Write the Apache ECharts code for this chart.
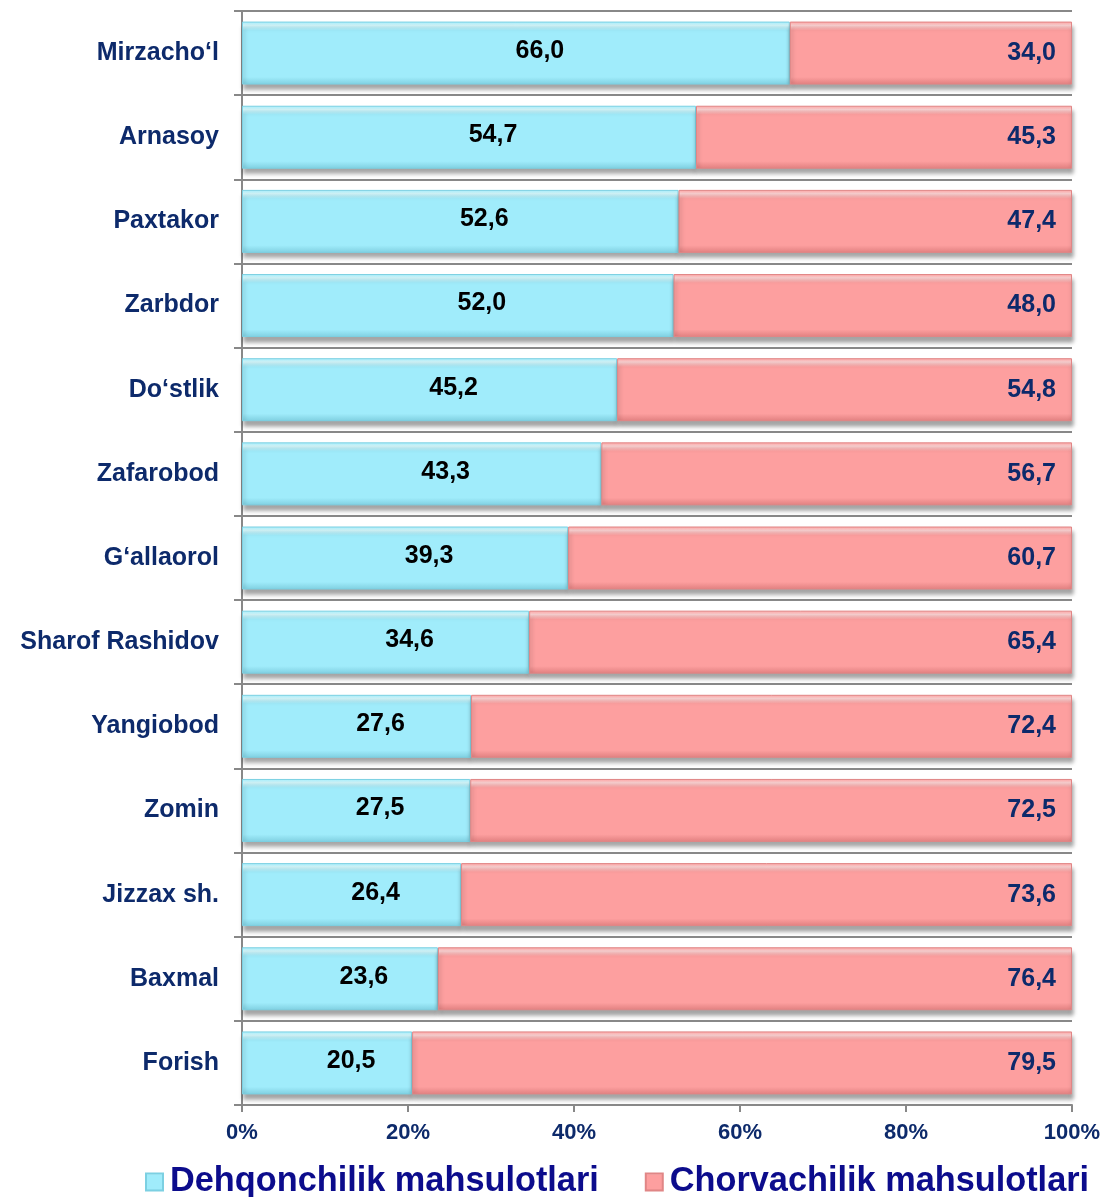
<!DOCTYPE html>
<html>
<head>
<meta charset="utf-8">
<script src="https://cdn.jsdelivr.net/npm/echarts@6/dist/echarts.min.js"></script>
<style>
html,body{margin:0;padding:0;background:#fff;}
#chart{width:1101px;height:1197px;}
</style>
</head>
<body>
<div id="chart"></div>
<script>
const categories = ["Mirzacho‘l","Arnasoy","Paxtakor","Zarbdor","Do‘stlik","Zafarobod","G‘allaorol","Sharof Rashidov","Yangiobod","Zomin","Jizzax sh.","Baxmal","Forish"];
const dehqonchilik = [66.0,54.7,52.6,52.0,45.2,43.3,39.3,34.6,27.6,27.5,26.4,23.6,20.5];
const chorvachilik = [34.0,45.3,47.4,48.0,54.8,56.7,60.7,65.4,72.4,72.5,73.6,76.4,79.5];
const seriesNames = ["Dehqonchilik mahsulotlari","Chorvachilik mahsulotlari"];

const fmt = v => v.toFixed(1).replace('.', ',');
const font = "Liberation Sans, Arial, sans-serif";
function grad(light, base, dark){
  return {type:'linear',x:0,y:0,x2:0,y2:1,colorStops:[
    {offset:0,color:base},{offset:0.06,color:light},{offset:0.14,color:base},
    {offset:0.88,color:base},{offset:1,color:dark}]};
}
const chart = echarts.init(document.getElementById('chart'));
chart.setOption({
  animation:false,
  backgroundColor:'#fff',
  grid:{left:242,right:29,top:11,bottom:92,containLabel:false,outerBoundsMode:'none'},
  legend:{
    bottom:-7,left:140,width:1000,itemGap:46,itemWidth:17,itemHeight:17,icon:'rect',
    textStyle:{fontFamily:font,fontWeight:'bold',fontSize:34.3,color:'#0c0c8c',padding:[0,0,0,2]},
    data:seriesNames
  },
  xAxis:{
    type:'value',min:0,max:100,interval:20,
    axisLine:{show:true,lineStyle:{color:'#888',width:2}},
    axisTick:{show:true,length:7,lineStyle:{color:'#888',width:2}},
    splitLine:{show:false},
    axisLabel:{formatter:'{value}%',fontFamily:font,fontWeight:'bold',fontSize:22,color:'#0d2a6b',margin:17}
  },
  yAxis:{
    type:'category',inverse:true,data:categories,
    axisLine:{show:true,lineStyle:{color:'#888',width:2}},
    axisTick:{show:true,length:8,lineStyle:{color:'#888',width:2}},
    splitLine:{show:true,lineStyle:{color:'#888',width:2}},
    axisLabel:{fontFamily:font,fontWeight:'bold',fontSize:25,color:'#0d2a6b',margin:23}
  },
  series:[
    {name:seriesNames[0],type:'bar',stack:'s',data:dehqonchilik,barWidth:63,
     itemStyle:{color:grad('#d8fbff','#a0ecfb','#7fcfe0'),borderColor:'#7cd0e2',borderWidth:1,
       shadowColor:'rgba(0,0,0,0.35)',shadowBlur:4,shadowOffsetY:5,shadowOffsetX:1},
     label:{show:true,position:'inside',offset:[24,-2],formatter:p=>fmt(p.value),
       fontFamily:font,fontWeight:'bold',fontSize:25,color:'#000'}},
    {name:seriesNames[1],type:'bar',stack:'s',data:chorvachilik,barWidth:63,
     itemStyle:{color:grad('#ffd6d6','#fd9f9f','#e07f7f'),borderColor:'#e08686',borderWidth:1,
       shadowColor:'rgba(0,0,0,0.35)',shadowBlur:4,shadowOffsetY:5,shadowOffsetX:1},
     label:{show:true,position:'insideRight',distance:16,formatter:p=>fmt(p.value),
       fontFamily:font,fontWeight:'bold',fontSize:25,color:'#0d2a6b'}}
  ]
});
</script>
</body>
</html>
